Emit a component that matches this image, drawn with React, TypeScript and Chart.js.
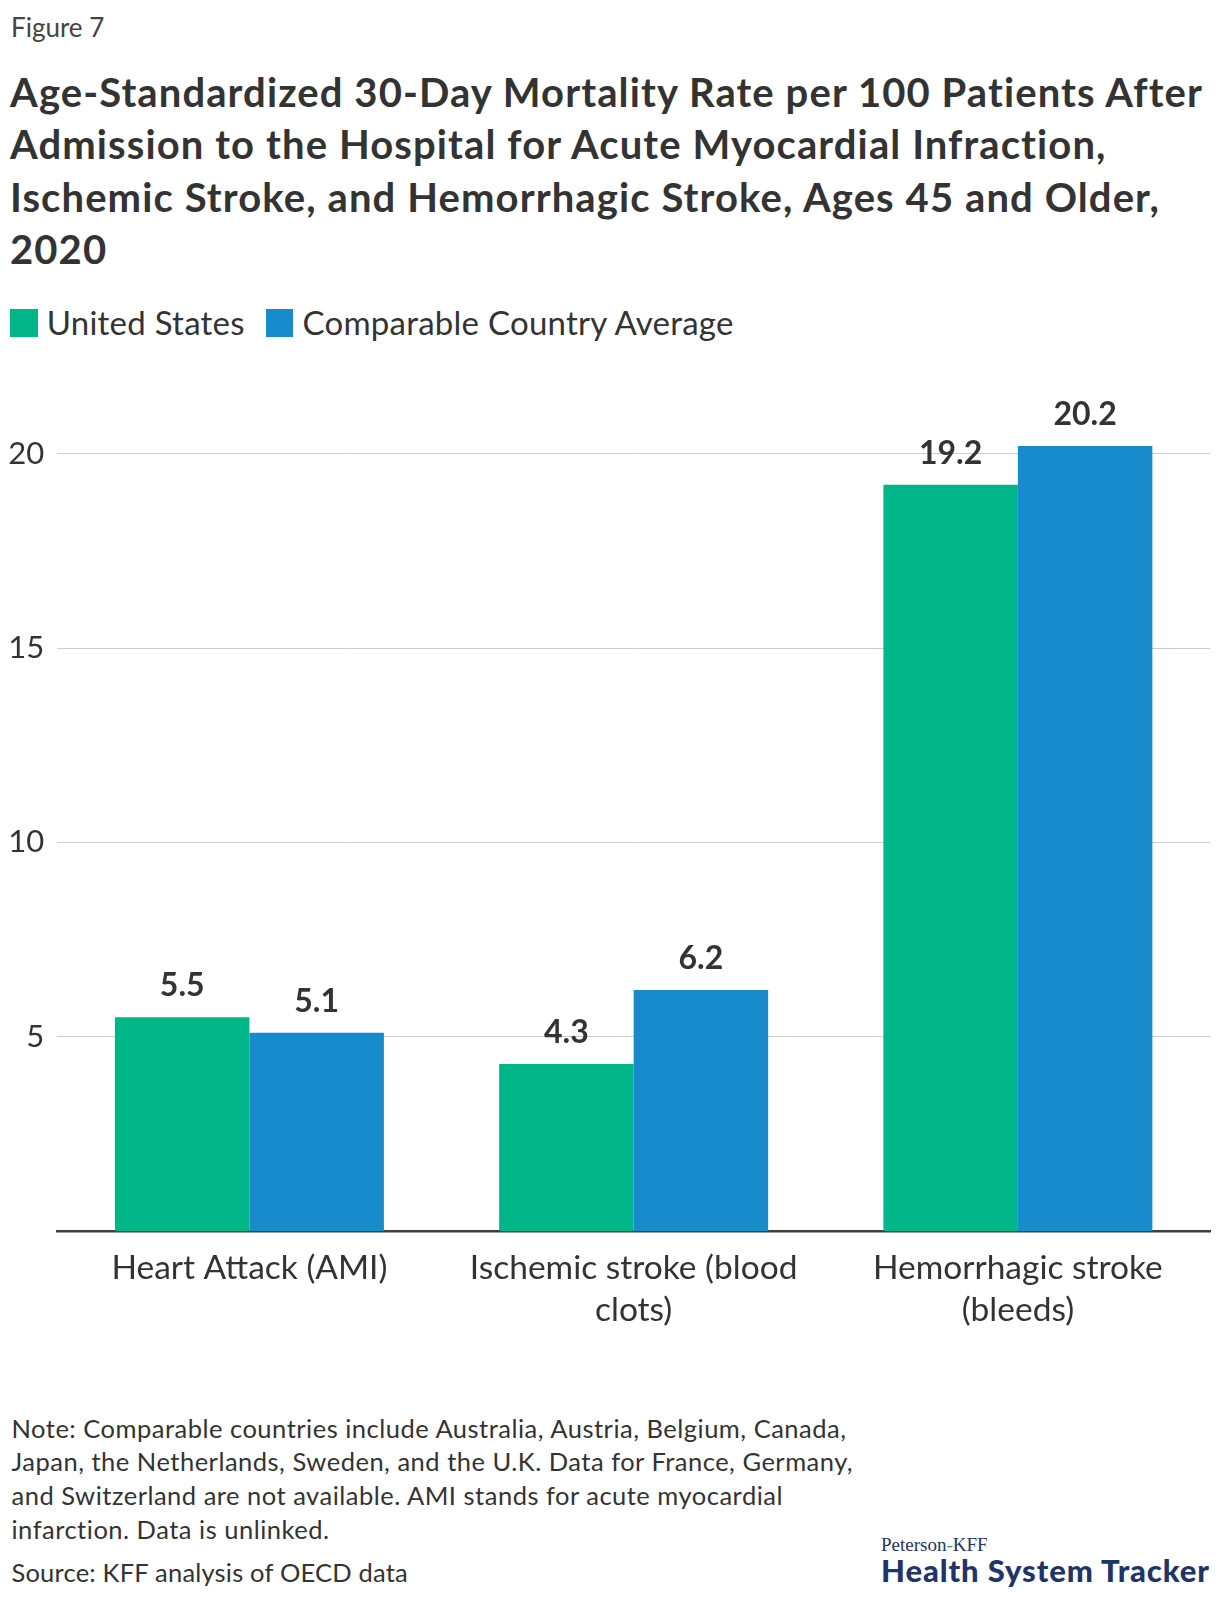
import React, { useEffect, useRef } from "react";
import { Chart, registerables } from "chart.js";

Chart.register(...registerables);

// ---------- data ----------
const categories: string[][] = [
  ["Heart Attack (AMI)"],
  ["Ischemic stroke (blood", "clots)"],
  ["Hemorrhagic stroke", "(bleeds)"],
];
const seriesNames = ["United States", "Comparable Country Average"];
const unitedStates = [5.5, 4.3, 19.2];
const comparableAverage = [5.1, 6.2, 20.2];
const yTickValues = [5, 10, 15, 20];
const seriesColors = ["#00B587", "#178BCB"];

const titleLines = [
  "Age-Standardized 30-Day Mortality Rate per 100 Patients After",
  "Admission to the Hospital for Acute Myocardial Infraction,",
  "Ischemic Stroke, and Hemorrhagic Stroke, Ages 45 and Older,",
  "2020",
];
const noteLines = [
  "Note: Comparable countries include Australia, Austria, Belgium, Canada,",
  "Japan, the Netherlands, Sweden, and the U.K. Data for France, Germany,",
  "and Switzerland are not available. AMI stands for acute myocardial",
  "infarction. Data is unlinked.",
];
const sourceLine = "Source: KFF analysis of OECD data";

// ---------- style ----------
const FONT = "Lato, 'Noto Sans', sans-serif";
const TEXT = "#333333";
const NAVY = "#1F3566";

// top offset so that text baseline lands at `baseline`
function topFor(baseline: number, size: number, lh: number) {
  return baseline - ((lh - 1.2 * size) / 2 + 0.987 * size);
}

const valueLabels = {
  id: "valueLabels",
  afterDatasetsDraw(chart: any) {
    const ctx = chart.ctx;
    ctx.save();
    ctx.font = `700 32px ${FONT}`;
    ctx.fillStyle = TEXT;
    ctx.textAlign = "center";
    ctx.textBaseline = "alphabetic";
    chart.data.datasets.forEach((ds: any, i: number) => {
      chart.getDatasetMeta(i).data.forEach((bar: any, j: number) => {
        ctx.fillText(Number(ds.data[j]).toFixed(1), bar.x, bar.y - 21);
      });
    });
    ctx.restore();
  },
};

function BarChart() {
  const ref = useRef<HTMLCanvasElement | null>(null);
  useEffect(() => {
    if (!ref.current) return;
    const chart = new Chart(ref.current, {
      type: "bar",
      data: {
        labels: categories,
        datasets: [
          {
            label: seriesNames[0],
            data: unitedStates,
            backgroundColor: seriesColors[0],
            borderWidth: 0,
            categoryPercentage: 0.7,
            barPercentage: 1.0,
          },
          {
            label: seriesNames[1],
            data: comparableAverage,
            backgroundColor: seriesColors[1],
            borderWidth: 0,
            categoryPercentage: 0.7,
            barPercentage: 1.0,
          },
        ],
      },
      options: {
        animation: false,
        responsive: false,
        maintainAspectRatio: false,
        layout: { padding: { top: 16, left: 0, right: 10, bottom: 0 } },
        plugins: {
          legend: { display: false },
          tooltip: { enabled: false },
          title: { display: false },
        },
        scales: {
          x: {
            grid: { display: false, drawTicks: false },
            border: { display: true, color: "#3F3F3F", width: 2.5 },
            ticks: {
              color: TEXT,
              font: { family: FONT, size: 33.5, lineHeight: 42 / 33.5 },
              padding: 16,
              maxRotation: 0,
              autoSkip: false,
            },
            afterFit: (s: any) => {
              s.height = 129;
              s.paddingLeft = 0;
              s.paddingRight = 0;
            },
          },
          y: {
            min: 0,
            max: 22,
            grid: { color: "#CCCCCC", lineWidth: 1, drawTicks: false },
            border: { display: false },
            ticks: {
              color: TEXT,
              font: { family: FONT, size: 31 },
              padding: 13,
            },
            afterBuildTicks: (s: any) => {
              s.ticks = yTickValues.map((v) => ({ value: v }));
            },
            afterFit: (s: any) => {
              s.width = 57.3;
              s.paddingTop = 0;
              s.paddingBottom = 0;
            },
          },
        },
      },
      plugins: [valueLabels],
    });
    return () => chart.destroy();
  }, []);
  return (
    <canvas
      ref={ref}
      width={1220}
      height={1000}
      style={{ position: "absolute", left: 0, top: 360, width: 1220, height: 1000 }}
    />
  );
}

export default function App() {
  const abs = (o: React.CSSProperties): React.CSSProperties => ({
    position: "absolute",
    whiteSpace: "pre",
    fontFamily: FONT,
    color: TEXT,
    margin: 0,
    ...o,
  });
  return (
    <div
      style={{
        position: "absolute",
        left: 0,
        top: 0,
        width: 1220,
        height: 1600,
        background: "#ffffff",
        overflow: "hidden",
      }}
    >
      <div style={abs({ left: 11, top: topFor(36.7, 26, 32), fontSize: 26, lineHeight: "32px", color: "#444" })}>
        Figure 7
      </div>
      <div
        style={abs({
          left: 10,
          top: topFor(107.5, 40, 52.4),
          fontSize: 40,
          lineHeight: "52.4px",
          fontWeight: 700,
          letterSpacing: 1.1,
        })}
      >
        {titleLines.map((l, i) => (
          <div key={i}>{l}</div>
        ))}
      </div>
      <div
        style={abs({
          left: 10,
          top: topFor(336, 33, 39.6),
          display: "flex",
          alignItems: "flex-start",
          fontSize: 33,
          lineHeight: "39.6px",
          letterSpacing: 0.25,
        })}
      >
        {seriesNames.map((n, i) => (
          <div key={i} style={{ display: "flex", alignItems: "flex-start", marginRight: 21 }}>
            <div
              style={{
                width: 27.7,
                height: 27.7,
                marginTop: 6,
                marginRight: 9,
                background: seriesColors[i],
              }}
            />
            <span>{n}</span>
          </div>
        ))}
      </div>

      <BarChart />

      <div
        style={abs({
          left: 11.5,
          top: topFor(1438.5, 25.5, 33.6),
          fontSize: 25.5,
          lineHeight: "33.6px",
          letterSpacing: 0.5,
        })}
      >
        {noteLines.map((l, i) => (
          <div key={i}>{l}</div>
        ))}
      </div>
      <div
        style={abs({
          left: 11.5,
          top: topFor(1582.5, 25.5, 33.6),
          fontSize: 25.5,
          lineHeight: "33.6px",
          letterSpacing: 0.2,
        })}
      >
        {sourceLine}
      </div>

      <div
        style={abs({
          left: 881,
          top: 1551 - 19 * 0.9,
          fontSize: 19,
          lineHeight: "21px",
          fontFamily: "'Liberation Serif', 'DejaVu Serif', serif",
          color: NAVY,
        })}
      >
        Peterson<span style={{ color: "#2BA35A" }}>-</span>KFF
      </div>
      <div
        style={abs({
          left: 881,
          top: topFor(1582.7, 31, 37.2),
          fontSize: 31,
          lineHeight: "37.2px",
          fontWeight: 900,
          color: NAVY,
          letterSpacing: 0.9,
        })}
      >
        Health System Tracker
      </div>
    </div>
  );
}
